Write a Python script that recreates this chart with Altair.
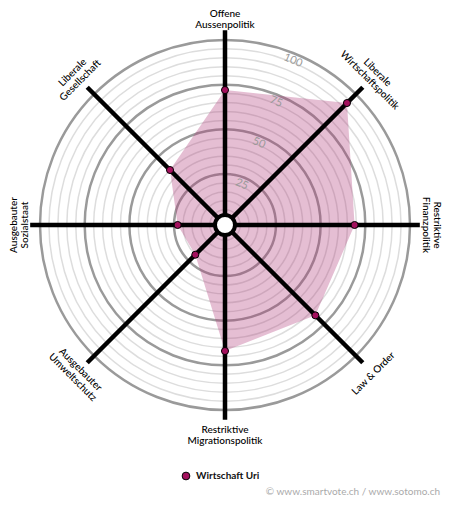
import altair as alt
import pandas as pd

# ---- data ----
axis_labels = [
    "Offene\nAussenpolitik",
    "Liberale\nWirtschaftspolitik",
    "Restriktive\nFinanzpolitik",
    "Law & Order",
    "Restriktive\nMigrationspolitik",
    "Ausgebauter\nUmweltschutz",
    "Ausgebauter\nSozialstaat",
    "Liberale\nGesellschaft",
]
values = [72, 93, 69, 68, 67, 20, 23, 40]
series_name = "Wirtschaft Uri"
ring_values = list(range(5, 105, 5))
ring_label_values = [25, 50, 75, 100]
credit_text = "© www.smartvote.ch / www.sotomo.ch"

# ---- geometry (in value units) ----
OFFSET = 3.5      # radius of value 0 (inner white disk)
R_AXIS = 109      # spoke length
R_LABEL = 117.5   # category label radius
LINE_H = 11       # label line height, px
W, H = 434, 486
HALF = 121.4
PX = W / (2 * HALF)
XD = [-HALF, HALF]
YD = [-(H - 217) / PX, HALF]
SHIFT = LINE_H / 2 / PX
EDGE = HALF - 5.5 / PX   # keep label glyphs inside the drawing area

xs = alt.Scale(domain=XD, nice=False, zero=False)
ys = alt.Scale(domain=YD, nice=False, zero=False)
ss = alt.Scale(type="pow", exponent=2, domain=[0, HALF], range=[0, (2 * HALF * PX) ** 2])

df = pd.DataFrame({
    "axis": axis_labels,
    "value": values,
    "i": list(range(len(values))),
    "series": [series_name] * len(values),
})
rings = pd.DataFrame({"ring": ring_values})
ring_labels = pd.DataFrame({"ring": ring_label_values})
credit = pd.DataFrame({"t": [credit_text]})

base = alt.Chart(df).transform_calculate(
    th="datum.i * PI / 4",
    r=f"datum.value + {OFFSET}",
    deg="datum.i * 45",
    nl="indexof(datum.axis, '\\n') >= 0 ? 2 : 1",
).transform_calculate(
    rot="(datum.deg > 90 && datum.deg < 270) ? (datum.deg + 180) % 360 : datum.deg",
).transform_calculate(
    rr="datum.rot * PI / 180",
    sh=f"(datum.nl - 1) * {SHIFT}",
).transform_calculate(
    px="datum.r * sin(datum.th)",
    py="datum.r * cos(datum.th)",
    ex=f"{R_AXIS} * sin(datum.th)",
    ey=f"{R_AXIS} * cos(datum.th)",
    lx0=f"{R_LABEL} * sin(datum.th) + datum.sh * sin(datum.rr)",
    ly0=f"{R_LABEL} * cos(datum.th) + datum.sh * cos(datum.rr)",
    zx="0",
    zy="0",
).transform_calculate(
    lx=f"clamp(datum.lx0, {-EDGE}, {EDGE})",
    ly=f"min(datum.ly0, {EDGE})",
)

ring_base = alt.Chart(rings).transform_calculate(
    rr=f"datum.ring + {OFFSET}", zx="0", zy="0"
)
ring_minor = ring_base.transform_filter("datum.ring % 25 != 0").mark_point(
    shape="circle", filled=False, stroke="#dddddd", strokeWidth=1.5, opacity=1
).encode(
    x=alt.X("zx:Q", scale=xs, axis=None),
    y=alt.Y("zy:Q", scale=ys, axis=None),
    size=alt.Size("rr:Q", scale=ss, legend=None),
)
ring_major = ring_base.transform_filter("datum.ring % 25 == 0").mark_point(
    shape="circle", filled=False, stroke="#9a9a9a", strokeWidth=2.5, opacity=1
).encode(
    x=alt.X("zx:Q", scale=xs, axis=None),
    y=alt.Y("zy:Q", scale=ys, axis=None),
    size=alt.Size("rr:Q", scale=ss, legend=None),
)

ring_text = alt.Chart(ring_labels).transform_calculate(
    lr="datum.ring - 0.5",
).transform_calculate(
    tx="datum.lr * sin(PI / 8)",
    ty="datum.lr * cos(PI / 8)",
).mark_text(
    angle=22.5, fontSize=11, color="#9a9a9a", font="Lato", align="center", baseline="middle"
).encode(
    x=alt.X("tx:Q", scale=xs, axis=None),
    y=alt.Y("ty:Q", scale=ys, axis=None),
    text="ring:N",
)

polygon = base.mark_line(
    interpolate="linear-closed", fill="#b03a78", fillOpacity=0.33, strokeWidth=0
).encode(
    x=alt.X("px:Q", scale=xs, axis=None),
    y=alt.Y("py:Q", scale=ys, axis=None),
    order="i:Q",
)

spokes = base.mark_rule(color="black", strokeWidth=4.5).encode(
    x=alt.X("zx:Q", scale=xs, axis=None),
    y=alt.Y("zy:Q", scale=ys, axis=None),
    x2="ex:Q",
    y2="ey:Q",
)

center = base.transform_filter("datum.i == 0").mark_point(
    shape="circle", filled=True, fill="white", stroke="black", strokeWidth=4,
    size=400, opacity=1
).encode(
    x=alt.X("zx:Q", scale=xs, axis=None),
    y=alt.Y("zy:Q", scale=ys, axis=None),
)

points = base.mark_point(
    shape="circle", filled=True, size=50, stroke="black", strokeWidth=1, opacity=1
).encode(
    x=alt.X("px:Q", scale=xs, axis=None),
    y=alt.Y("py:Q", scale=ys, axis=None),
    color=alt.Color(
        "series:N",
        scale=alt.Scale(range=["#a3105d"]),
        legend=alt.Legend(
            title=None, orient="none", legendX=173, legendY=463, padding=0,
            symbolType="circle", symbolSize=60, symbolStrokeColor="black",
            symbolStrokeWidth=1, labelFont="Lato", labelFontSize=10,
            labelFontWeight="bold", labelColor="#111111", labelOffset=5,
        ),
    ),
)

labels = base.mark_text(
    lineBreak="\n", fontSize=10, font="Lato", fontWeight=500, align="center",
    baseline="middle", lineHeight=LINE_H, color="#000000",
).encode(
    x=alt.X("lx:Q", scale=xs, axis=None),
    y=alt.Y("ly:Q", scale=ys, axis=None),
    angle=alt.Angle("rot:Q", scale=None),
    text="axis:N",
)

credit_mark = alt.Chart(credit).transform_calculate(
    cx="120.3", cy="-149.4"
).mark_text(
    align="right", baseline="middle", fontSize=10, font="Lato", color="#aaaaaa"
).encode(
    x=alt.X("cx:Q", scale=xs, axis=None),
    y=alt.Y("cy:Q", scale=ys, axis=None),
    text="t:N",
)

chart = alt.layer(
    ring_minor, ring_major, polygon, ring_text, spokes, center, points, labels, credit_mark
).properties(
    width=W, height=H, padding=0, background="white"
).configure_view(stroke=None)

chart.save("out.html", embed_options={"renderer": "svg", "actions": False})
